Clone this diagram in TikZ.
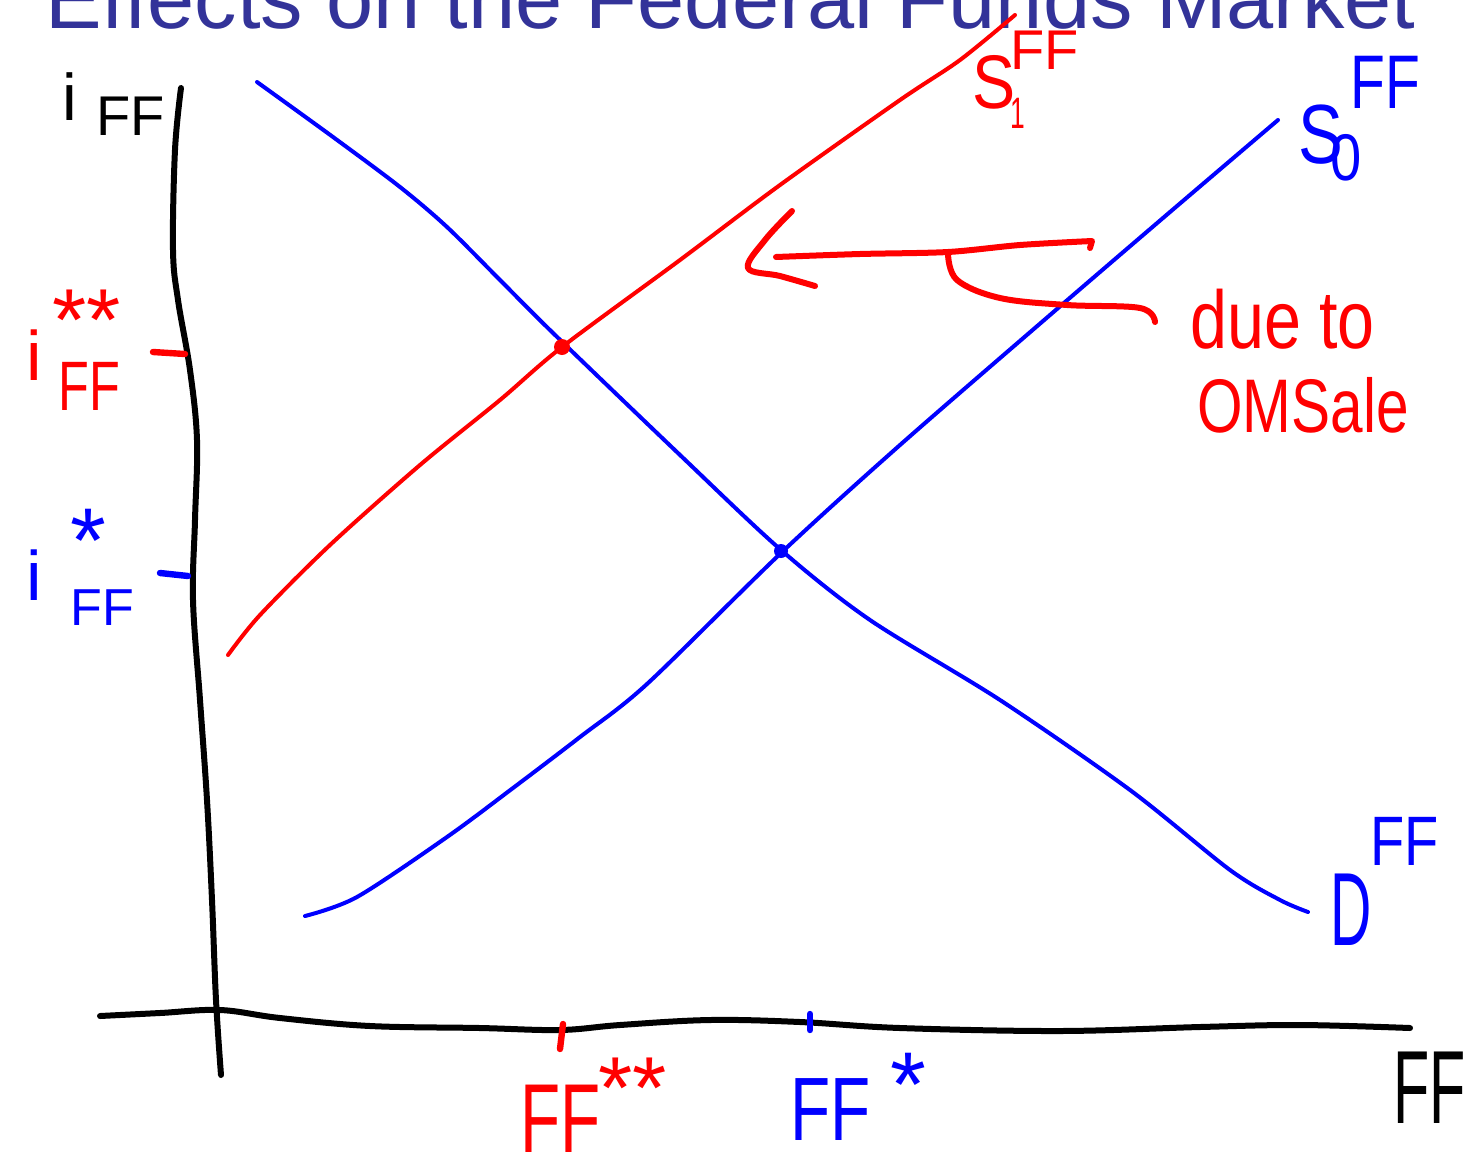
\documentclass[tikz,border=0pt]{standalone}
\usepackage{fontspec}
\setmainfont{Liberation Sans}
\setsansfont{Liberation Sans}
\definecolor{titleblue}{RGB}{51,51,153}
\definecolor{pblue}{RGB}{0,0,255}
\definecolor{pred}{RGB}{255,0,0}
\newcommand\fsz[1]{\fontsize{#1}{#1}\selectfont}
\begin{document}
\begin{tikzpicture}[x=0.5pt,y=-0.5pt,
  lbl/.style={inner sep=0pt, anchor=base west},
  curve/.style={line width=2pt, line cap=round, line join=round},
  axisline/.style={line width=3pt, line cap=round, line join=round, black},
  ink/.style={line width=3pt, line cap=round, line join=round},
  tick/.style={line width=3.2pt, line cap=round}]
\clip (0,0) rectangle (1470,1161);
\fill[white] (0,0) rectangle (1470,1161);

% title
\node[lbl, text=titleblue, font=\fsz{42.4}] (title) at (45,29) {Effects on the Federal Funds Market};

% axes
\draw[axisline] plot[smooth, tension=0.6] coordinates {(181,88) (175,150) (173,250) (178,300) (190,370) (197,440) (195,520) (193,600) (200,700) (207,800) (212,900) (216,1000) (221,1075)};
\draw[axisline] plot[smooth, tension=0.6] coordinates {(100,1016) (160,1013) (220,1010) (280,1018) (370,1026) (480,1028) (560,1030) (620,1025) (710,1020) (800,1022) (900,1028) (1060,1031) (1200,1027) (1300,1025) (1410,1028)};

% demand
\draw[curve, pblue] plot[smooth, tension=0.5] coordinates {(257,82) (333,137) (400,187) (447,227) (500,280) (553,333) (680,455) (781,550) (870,620) (1000,700) (1130,790) (1230,870) (1280,900) (1308,912)};
% S0
\draw[curve, pblue] plot[smooth, tension=0.5] coordinates {(305,916) (357,897) (447,837) (513,788) (580,737) (647,684) (781,553) (900,445) (1050,315) (1170,212) (1278,120)};
% S1
\draw[curve, pred] plot[smooth, tension=0.5] coordinates {(228,655) (260,615) (330,545) (420,465) (500,400) (562,347) (680,260) (780,185) (900,100) (960,60) (1015,15)};

% equilibrium dots
\fill[pred] (562,347) circle (8);
\fill[pblue] (781,551) circle (7);

% ticks
\draw[tick, pred] (153,352) -- (185,354);
\draw[tick, pblue] (160,573) -- (188,576);
\draw[tick, pred] (563,1024) -- (560,1049);
\draw[tick, pblue] (810,1014) -- (810,1030);

% axis labels
\node[lbl, font=\fsz{33}] (iy) at (62,120) {i};
\node[lbl, font=\fsz{28}] (iyff) at (96,135) {FF};
\node[lbl, text=pred, font=\fsz{35}] (ired) at (26,380) {i};
\node[lbl, text=pred, font=\fsz{35}, xscale=0.72] (iredff) at (58,410) {FF};
\node[lbl, text=pred, font=\fsz{44}] (iredst) at (52,350) {**};
\node[lbl, text=pblue, font=\fsz{35}] (iblue) at (26,600) {i};
\node[lbl, text=pblue, font=\fsz{26}] (iblueff) at (70,625) {FF};
\node[lbl, text=pblue, font=\fsz{46}] (ibluest) at (70,572) {*};

\node[lbl, text=pred, font=\fsz{38}, xscale=0.85] (s1) at (972,108) {S};
\node[lbl, text=pred, font=\fsz{22}, xscale=0.6] (s1sub) at (1010,128) {1};
\node[lbl, text=pred, font=\fsz{28}] (s1ff) at (1010,70) {FF};

\node[lbl, text=pblue, font=\fsz{42}, xscale=0.8] (s0) at (1298,163) {S};
\node[lbl, text=pblue, font=\fsz{33}, xscale=0.85] (s0sub) at (1330,180) {0};
\node[lbl, text=pblue, font=\fsz{38}, xscale=0.75] (s0ff) at (1350,108) {FF};

\node[lbl, text=pblue, font=\fsz{52}, xscale=0.55] (dd) at (1330,945) {D};
\node[lbl, text=pblue, font=\fsz{35}, xscale=0.8] (ddff) at (1370,865) {FF};

\node[lbl, text=pred, font=\fsz{49}, xscale=0.67] (ffred) at (520,1152) {FF};
\node[lbl, text=pred, font=\fsz{44}] (ffredst) at (598,1118) {**};
\node[lbl, text=pblue, font=\fsz{45}, xscale=0.73] (ffblue) at (790,1140) {FF};
\node[lbl, text=pblue, font=\fsz{46}] (ffbluest) at (890,1116) {*};
\node[lbl, font=\fsz{52}, xscale=0.57] (ffx) at (1393,1123) {FF};

% annotation
\draw[ink, pred] plot[smooth, tension=0.5] coordinates {(776,257) (860,254) (948,252) (1020,245) (1092,241)} -- (1090,248);
\draw[ink, pred] plot[smooth, tension=0.6] coordinates {(792,211) (765,240) (748,268) (780,276) (815,286)};
\draw[ink, pred] plot[smooth, tension=0.6] coordinates {(948,254) (957,280) (1000,298) (1067,305) (1140,308) (1155,322)};
\node[lbl, text=pred, font=\fsz{41}, xscale=0.81] (due) at (1190,348) {due to};
\node[lbl, text=pred, font=\fsz{38}, xscale=0.77] (oms) at (1197,432) {OMSale};
\end{tikzpicture}
\end{document}
